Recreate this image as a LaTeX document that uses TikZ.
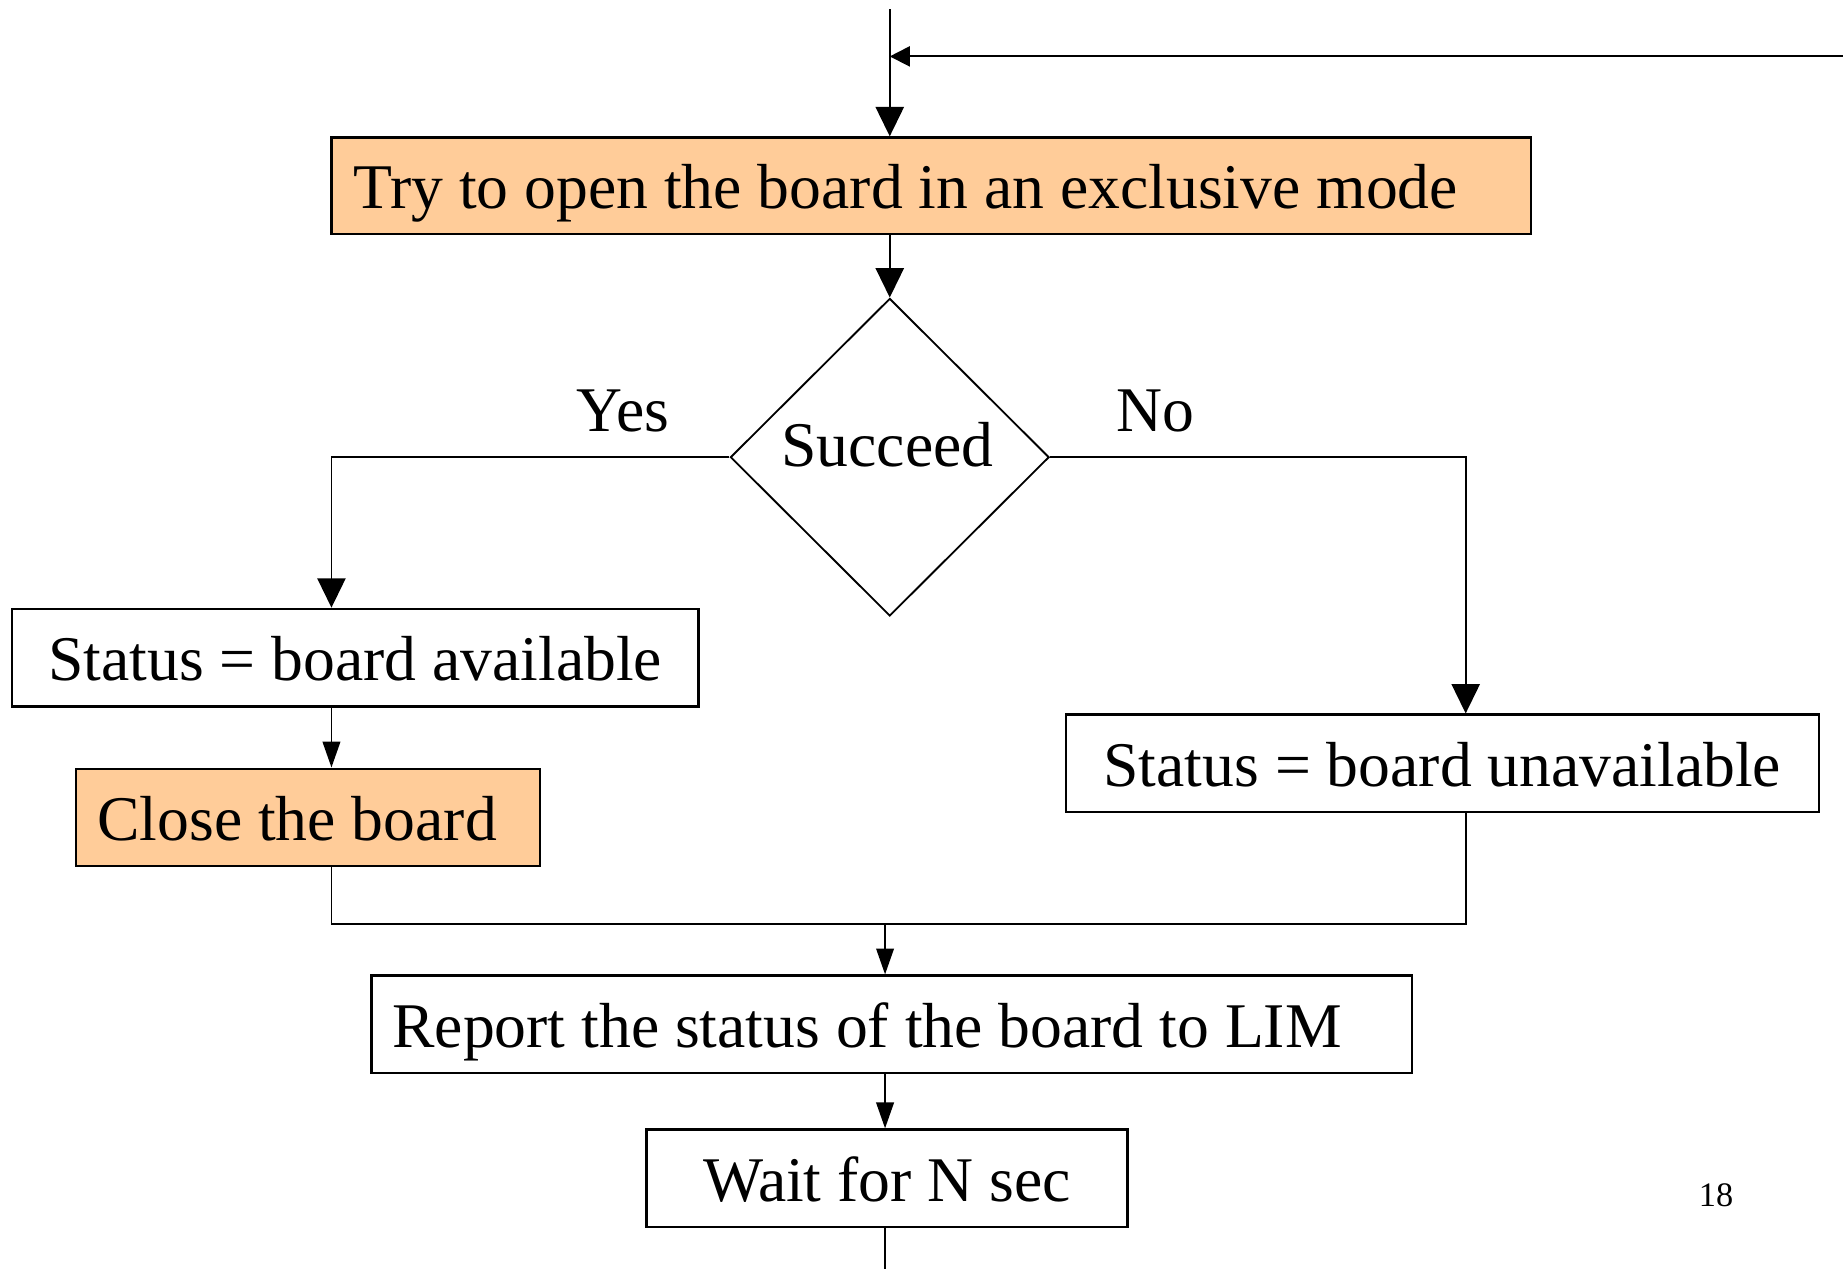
\documentclass[tikz,border=0pt]{standalone}
\usepackage{fontspec}
\setmainfont{Liberation Serif}
\usetikzlibrary{arrows.meta,shapes.geometric}
\definecolor{boxorange}{RGB}{255,204,153}
\begin{document}
\begin{tikzpicture}[x=0.01cm,y=-0.01cm,
  line width=0.45pt,
  txt/.style={font=\fontsize{15.4}{18}\selectfont},
  box/.style={txt,draw=black,line width=0.55pt,inner xsep=0pt,inner ysep=0pt,anchor=north west,minimum height=0.83cm,text height=0.45cm,text depth=0.06cm},
  cbox/.style={box,align=center},
  inbox/.style={txt,anchor=base west,inner sep=0pt},
  hot/.style={fill=boxorange},
  bigarrow/.style={-{Triangle[length=0.25cm,width=0.24cm]}},
  smallarrow/.style={-{Triangle[length=0.22cm,width=0.15cm]}},
  sidearrow/.style={-{Triangle[length=0.17cm,width=0.17cm]}}
]
\useasboundingbox (0,0) rectangle (1568,1080);

% boxes
\node[box,hot,minimum width=10.20cm,minimum height=0.82cm] (open) at (281,116) {};
\node[inbox] (opentext) at ([xshift=0.19cm,yshift=-0.195cm]open.west) {Try to open the board in an exclusive mode};
\node[diamond,draw=black,line width=0.45pt,minimum width=2.71cm,minimum height=2.70cm,inner sep=0pt] (dec) at (757,389) {};
\node[txt] (dectext) at (755,378) {Succeed};
\node[cbox,minimum width=5.84cm] (avail) at (9,517) {Status = board available};
\node[box,hot,minimum width=3.94cm] (close) at (64,653) {};
\node[inbox] (closetext) at ([xshift=0.18cm,yshift=-0.195cm]close.west) {Close the board};
\node[cbox,minimum width=6.40cm] (unavail) at (906,607) {Status = board unavailable};
\node[box,minimum width=8.85cm] (report) at (315,829) {};
\node[inbox] (reporttext) at ([xshift=0.18cm,yshift=-0.195cm]report.west) {Report the status of the board to LIM};
\node[cbox,minimum width=4.09cm] (wait) at (549,960) {Wait for N sec};

% labels
\node[txt] (yes) at (530,350) {Yes};
\node[txt] (no) at (983,350) {No};
\node[font=\fontsize{8.3}{10}\selectfont] (page) at (1460,1017) {18};

% coordinates
\coordinate (top) at (757,8);
\coordinate (loopin) at (1568,48);
\coordinate (lx) at (282,0);
\coordinate (rx) at (1247,0);
\coordinate (mid) at (753,0);
\coordinate (merge) at (0,786);
\coordinate (bottom) at (753,1080);

% connectors
\draw[bigarrow] (top) -- (top |- open.north);
\draw[sidearrow] (loopin) -- (top |- loopin);
\draw[bigarrow] (top |- open.south) -- (dec.north);
\draw[bigarrow] (dec.west) -- (lx |- dec.west) -- (lx |- avail.north);
\draw[bigarrow] (dec.east) -- (rx |- dec.east) -- (rx |- unavail.north);
\draw[smallarrow] (lx |- avail.south) -- (lx |- close.north);
\draw (lx |- close.south) -- (lx |- merge) -- (rx |- merge) -- (rx |- unavail.south);
\draw[smallarrow] (mid |- merge) -- (mid |- report.north);
\draw[smallarrow] (mid |- report.south) -- (mid |- wait.north);
\draw (mid |- wait.south) -- (bottom);
\end{tikzpicture}
\end{document}
